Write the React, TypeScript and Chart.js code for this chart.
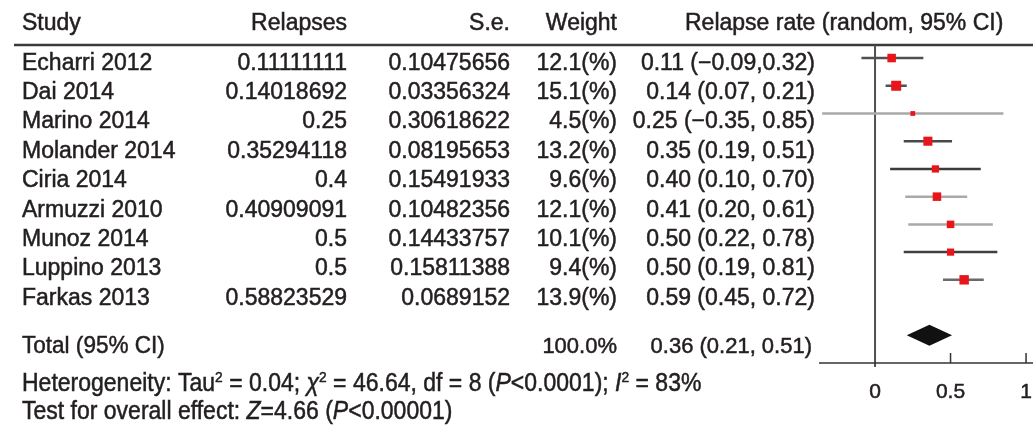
import React, { useEffect, useRef } from "react";
import { Chart, registerables } from "chart.js";

Chart.register(...registerables);

// ---------- data ----------
const headers = ["Study", "Relapses", "S.e.", "Weight", "Relapse rate (random, 95% CI)"];
const studies = [
  "Echarri 2012",
  "Dai 2014",
  "Marino 2014",
  "Molander 2014",
  "Ciria 2014",
  "Armuzzi 2010",
  "Munoz 2014",
  "Luppino 2013",
  "Farkas 2013",
];
const relapses = ["0.11111111", "0.14018692", "0.25", "0.35294118", "0.4", "0.40909091", "0.5", "0.5", "0.58823529"];
const stdErrors = ["0.10475656", "0.03356324", "0.30618622", "0.08195653", "0.15491933", "0.10482356", "0.14433757", "0.15811388", "0.0689152"];
const weights = [12.1, 15.1, 4.5, 13.2, 9.6, 12.1, 10.1, 9.4, 13.9];
const rates = [0.11, 0.14, 0.25, 0.35, 0.4, 0.41, 0.5, 0.5, 0.59];
const lower = [-0.09, 0.07, -0.35, 0.19, 0.1, 0.2, 0.22, 0.19, 0.45];
const upper = [0.32, 0.21, 0.85, 0.51, 0.7, 0.61, 0.78, 0.81, 0.72];
const ciLabels = [
  "0.11 (\u22120.09,0.32)",
  "0.14 (0.07, 0.21)",
  "0.25 (\u22120.35, 0.85)",
  "0.35 (0.19, 0.51)",
  "0.40 (0.10, 0.70)",
  "0.41 (0.20, 0.61)",
  "0.50 (0.22, 0.78)",
  "0.50 (0.19, 0.81)",
  "0.59 (0.45, 0.72)",
];
const totalName = "Total (95% CI)";
const totalWeight = "100.0%";
const totalEstimate = 0.36;
const totalLower = 0.21;
const totalUpper = 0.51;
const totalLabel = "0.36 (0.21, 0.51)";
const totalRow = 10;
const xTicks = [0, 0.5, 1];
const xTickLabels = ["0", "0.5", "1"];

type Seg = { t: string; it?: boolean; sup?: boolean };
const heterogeneity: Seg[] = [
  { t: "Heterogeneity: Tau" },
  { t: "2", sup: true },
  { t: " = 0.04; " },
  { t: "\u03C7", it: true },
  { t: "2", sup: true },
  { t: " = 46.64, df = 8 (" },
  { t: "P", it: true },
  { t: "<0.0001); " },
  { t: "I", it: true },
  { t: "2", sup: true },
  { t: " = 83%" },
];
const overallEffect: Seg[] = [
  { t: "Test for overall effect: " },
  { t: "Z", it: true },
  { t: "=4.66 (" },
  { t: "P", it: true },
  { t: "<0.00001)" },
];

// ---------- styles ----------
const ciColors = ["#505050", "#505050", "#a9a9a9", "#4a4a4a", "#3c3c3c", "#a9a9a9", "#a9a9a9", "#404040", "#6a6a6a"];
const FONT = "'Liberation Sans', Arial, Helvetica, sans-serif";
const TEXT = "#231f20";

function heavyText(ctx: CanvasRenderingContext2D, t: string, x: number, y: number) {
  ctx.fillText(t, x, y);
  ctx.strokeText(t, x, y);
}

function drawRich(ctx: CanvasRenderingContext2D, segs: Seg[], x: number, y: number, size: number, sx: number) {
  ctx.save();
  ctx.textAlign = "left";
  ctx.translate(x, y);
  ctx.scale(sx, 1);
  let cx = 0;
  for (const s of segs) {
    const fs = s.sup ? size * 0.6 : size;
    ctx.font = `${s.it ? "italic " : ""}${fs}px ${FONT}`;
    heavyText(ctx, s.t, cx, s.sup ? -size * 0.38 : 0);
    cx += ctx.measureText(s.t).width;
  }
  ctx.restore();
}

const decor = {
  id: "forestDecor",
  beforeDatasetsDraw(chart: any) {
    const { ctx, chartArea } = chart;
    const x = chart.scales.x;
    ctx.save();
    // header rule
    ctx.strokeStyle = "#3a3a3a";
    ctx.lineWidth = 2.5;
    ctx.beginPath();
    ctx.moveTo(14, chartArea.top);
    ctx.lineTo(chartArea.right, chartArea.top);
    ctx.stroke();
    // zero line
    const x0 = x.getPixelForValue(0);
    ctx.strokeStyle = "#505050";
    ctx.lineWidth = 2;
    ctx.beginPath();
    ctx.moveTo(x0, chartArea.top);
    ctx.lineTo(x0, chartArea.bottom + 4);
    ctx.stroke();
    // axis line
    ctx.strokeStyle = "#333";
    ctx.lineWidth = 1.5;
    ctx.beginPath();
    ctx.moveTo(chartArea.left, chartArea.bottom);
    ctx.lineTo(chartArea.right, chartArea.bottom);
    ctx.stroke();
    // ticks (pointing up) and labels
    ctx.fillStyle = TEXT;
    ctx.font = `21px ${FONT}`;
    ctx.textAlign = "center";
    ctx.textBaseline = "alphabetic";
    xTicks.forEach((v, i) => {
      const px = x.getPixelForValue(v);
      if (v !== 0) {
        ctx.beginPath();
        ctx.moveTo(px, chartArea.bottom - 10);
        ctx.lineTo(px, chartArea.bottom);
        ctx.stroke();
      }
    });
    ctx.strokeStyle = TEXT;
    ctx.lineWidth = 0.5;
    xTicks.forEach((v, i) => {
      heavyText(ctx, xTickLabels[i], x.getPixelForValue(v), chartArea.bottom + 35);
    });
    ctx.restore();
  },
  afterDatasetsDraw(chart: any) {
    const { ctx } = chart;
    const x = chart.scales.x;
    const y = chart.scales.y;
    const cy = y.getPixelForValue(totalRow);
    ctx.save();
    ctx.fillStyle = "#111";
    ctx.beginPath();
    ctx.moveTo(x.getPixelForValue(totalLower), cy);
    ctx.lineTo(x.getPixelForValue(totalEstimate), cy - 10.5);
    ctx.lineTo(x.getPixelForValue(totalUpper), cy);
    ctx.lineTo(x.getPixelForValue(totalEstimate), cy + 10.5);
    ctx.closePath();
    ctx.fill();
    ctx.restore();
  },
  afterDraw(chart: any) {
    const { ctx } = chart;
    ctx.save();
    ctx.fillStyle = TEXT;
    ctx.strokeStyle = TEXT;
    ctx.lineWidth = 0.5;
    ctx.textBaseline = "alphabetic";
    ctx.font = `23px ${FONT}`;
    const colRight = [347, 510, 617, 815];
    // headers
    ctx.textAlign = "left";
    heavyText(ctx, headers[0], 22, 30);
    ctx.textAlign = "right";
    heavyText(ctx, headers[1], colRight[0], 30);
    heavyText(ctx, headers[2], colRight[1], 30);
    heavyText(ctx, headers[3], colRight[2], 30);
    ctx.textAlign = "left";
    heavyText(ctx, headers[4], 685, 30);
    // rows
    studies.forEach((s, i) => {
      const by = 69.5 + 29.4 * i;
      ctx.textAlign = "left";
      heavyText(ctx, s, 22, by);
      ctx.textAlign = "right";
      heavyText(ctx, relapses[i], colRight[0], by);
      heavyText(ctx, stdErrors[i], colRight[1], by);
      heavyText(ctx, `${weights[i].toFixed(1)}(%)`, colRight[2], by);
      heavyText(ctx, ciLabels[i], colRight[3], by);
    });
    // total row and footer (taller, condensed face)
    const ty = 353;
    drawRich(ctx, [{ t: totalName }], 22, ty, 24.5, 0.92);
    ctx.textAlign = "right";
    ctx.font = `22px ${FONT}`;
    heavyText(ctx, totalWeight, colRight[2], ty);
    heavyText(ctx, totalLabel, 812, ty);
    drawRich(ctx, heterogeneity, 22, 391, 25, 0.92);
    drawRich(ctx, overallEffect, 22, 419, 25, 0.92);
    ctx.restore();
  },
};

export default function App() {
  const ref = useRef<HTMLCanvasElement | null>(null);
  useEffect(() => {
    document.body.style.margin = "0";
    const canvas = ref.current;
    if (!canvas) return;
    const lineSets = studies.map((s, i) => ({
      type: "line" as const,
      label: s,
      data: [
        { x: lower[i], y: i },
        { x: upper[i], y: i },
      ],
      borderColor: ciColors[i],
      borderWidth: 2.5,
      pointRadius: 0,
      order: 2,
    }));
    const chart = new Chart(canvas, {
      type: "scatter",
      data: {
        datasets: [
          {
            label: "Relapse rate",
            data: rates.map((r, i) => ({ x: r, y: i })),
            pointStyle: "rect",
            pointRadius: weights.map((w) => 1.8 + w * 0.35),
            backgroundColor: "#e8161b",
            borderColor: "#e8161b",
            borderWidth: 0,
            order: 0,
          } as any,
          ...lineSets,
        ],
      },
      options: {
        responsive: false,
        animation: false,
        layout: { autoPadding: false, padding: { left: 819, right: 0, top: 45, bottom: 64 } },
        plugins: { legend: { display: false }, tooltip: { enabled: false } },
        scales: {
          x: { type: "linear", min: -0.371, max: 1.046, display: false },
          y: { type: "linear", min: -0.47, max: 11, reverse: true, display: false },
        },
      },
      plugins: [decor],
    });
    return () => chart.destroy();
  }, []);
  return (
    <div style={{ position: "absolute", left: 0, top: 0, width: 1033, height: 427, background: "#fff" }}>
      <canvas ref={ref} width={1033} height={427} style={{ display: "block" }} />
    </div>
  );
}
